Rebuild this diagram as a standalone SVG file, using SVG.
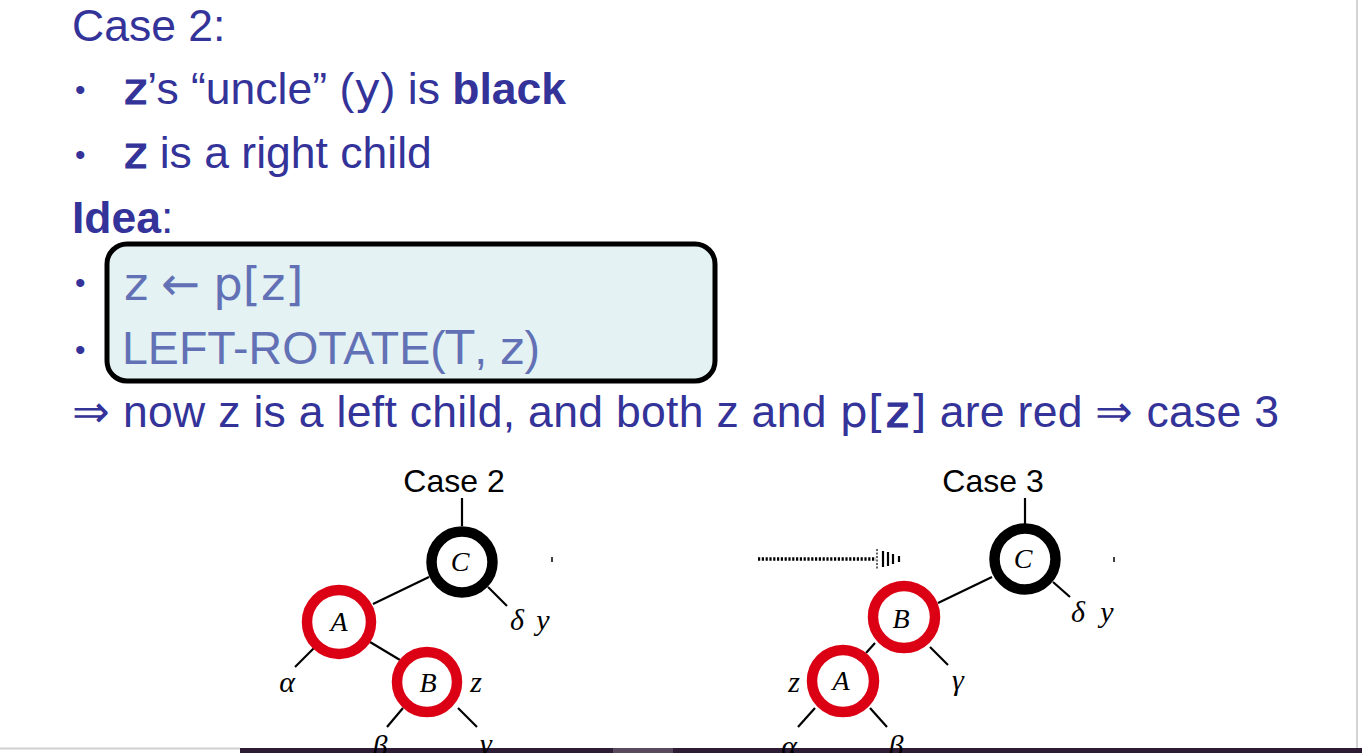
<svg xmlns="http://www.w3.org/2000/svg" width="1362" height="753" viewBox="0 0 1362 753">
<style>
.t{font-family:"Liberation Sans",Arial,sans-serif;font-size:44.5px;fill:#333399}
.m{font-family:"DejaVu Sans","Liberation Sans",sans-serif}
.mb{font-family:"DejaVu Sans","Liberation Sans",sans-serif;stroke:#333399;stroke-width:1.2}
.bx{font-family:"Liberation Sans",Arial,sans-serif;font-size:46.5px;fill:#6271b5}
.bul{font-family:"Liberation Sans",Arial,sans-serif;font-size:30px;fill:#333399}
.lab{font-family:"Liberation Sans",Arial,sans-serif;font-size:32px;fill:#000}
.it{font-family:"Liberation Serif","Times New Roman",serif;font-style:italic;font-size:30px;fill:#000}
.nd{font-family:"Liberation Serif","Times New Roman",serif;font-style:italic;font-size:28px;fill:#000}
.red{fill:#fff;stroke:#dc0014;stroke-width:10.5}
.blk{fill:#fff;stroke:#000;stroke-width:10.5}
.e{stroke:#000;stroke-width:2.2;fill:none}
</style>
<rect x="0" y="0" width="1362" height="753" fill="#fff"/>
<line x1="1357" y1="0" x2="1357" y2="748" stroke="#d4d4d4" stroke-width="2"/>
<line x1="0" y1="748.5" x2="240" y2="748.5" stroke="#cfcfcf" stroke-width="2"/>
<rect x="240" y="748" width="1122" height="5" fill="#2e1b34"/>
<rect x="613" y="748" width="60" height="5" fill="#5a4a5e"/>

<g id="text">
<text class="t" x="72" y="41">Case 2:</text>
<text class="bul" x="75" y="100">•</text>
<text class="t" x="124" y="104"><tspan class="mb">z</tspan>’s “uncle” (<tspan class="m">y</tspan>) is <tspan font-weight="bold">black</tspan></text>
<text class="bul" x="75" y="165">•</text>
<text class="t" x="124" y="168"><tspan class="mb">z</tspan> is a right child</text>
<text class="t" x="72" y="233"><tspan font-weight="bold">Idea</tspan>:</text>
</g>

<g id="box">
<rect x="107" y="244" width="608" height="137" rx="20" ry="20" fill="#e4f2f3" stroke="#000" stroke-width="5"/>
<text class="bul" x="75" y="293">•</text>
<text class="bx" x="124" y="300" font-size="45"><tspan class="m">z</tspan> <tspan class="m">←</tspan> <tspan class="m">p[z]</tspan></text>
<text class="bul" x="75" y="360">•</text>
<text class="bx" x="122" y="364">LEFT-ROTATE(<tspan class="m">T</tspan>, <tspan class="m">z</tspan>)</text>
</g>

<g id="conclusion">
<text class="t" x="72" y="427" font-size="45" textLength="1207" lengthAdjust="spacing">⇒ now z is a left child, and both z and <tspan class="m">p[</tspan><tspan class="mb">z</tspan><tspan class="m">]</tspan> are red ⇒ case 3</text>
</g>

<g id="connectors">
<line class="e" x1="462" y1="498" x2="462" y2="526"/>
<line class="e" x1="429" y1="577" x2="373" y2="604"/>
<line class="e" x1="488" y1="587" x2="507" y2="606"/>
<line class="e" x1="314" y1="648" x2="295" y2="667"/>
<line class="e" x1="370" y1="642" x2="400" y2="660"/>
<line class="e" x1="403" y1="708" x2="387" y2="727"/>
<line class="e" x1="458" y1="708" x2="477" y2="727"/>
<line class="e" x1="1025" y1="498" x2="1025" y2="524"/>
<line class="e" x1="992" y1="577" x2="938" y2="603"/>
<line class="e" x1="1053" y1="582" x2="1070" y2="597"/>
<line class="e" x1="875" y1="643" x2="866" y2="653"/>
<line class="e" x1="930" y1="647" x2="948" y2="665"/>
<line class="e" x1="815" y1="708" x2="798" y2="727"/>
<line class="e" x1="870" y1="708" x2="887" y2="727"/>
<line x1="552" y1="557" x2="552" y2="562" stroke="#000" stroke-width="1.5"/>
<line x1="1114" y1="557" x2="1114" y2="562" stroke="#000" stroke-width="1.5"/>
<g id="dotted-arrow" stroke="#000">
<line x1="758" y1="559" x2="876" y2="559" stroke-width="3.5" stroke-dasharray="2.2,1.6"/>
<line x1="877" y1="549" x2="877" y2="569" stroke-width="1.2" stroke-dasharray="2,1.5"/>
<line x1="883" y1="551" x2="883" y2="567" stroke-width="2.2"/>
<line x1="888" y1="552" x2="888" y2="566" stroke-width="2.2"/>
<line x1="893" y1="554" x2="893" y2="564" stroke-width="2.2"/>
<line x1="899" y1="556" x2="899" y2="562" stroke-width="2.2"/>
</g>
</g>

<g id="case2-label"><text class="lab" x="454" y="492" text-anchor="middle">Case 2</text></g>
<g id="case2-C"><circle class="blk" cx="462" cy="562" r="30.5"/><text class="nd" x="460" y="571" text-anchor="middle">C</text></g>
<g id="case2-A"><circle class="red" cx="339" cy="622" r="32"/><text class="nd" x="339" y="631" text-anchor="middle">A</text></g>
<g id="case2-B"><circle class="red" cx="427" cy="682" r="30"/><text class="nd" x="428" y="692" text-anchor="middle">B</text></g>
<g id="case2-leaves">
<text class="it" x="517" y="630" text-anchor="middle">δ</text>
<text class="it" x="543" y="630" text-anchor="middle">y</text>
<text class="it" x="287" y="692" text-anchor="middle">α</text>
<text class="it" x="476" y="692" text-anchor="middle">z</text>
<text class="it" x="380" y="756" text-anchor="middle">β</text>
<text class="it" x="486" y="754" text-anchor="middle">γ</text>
</g>

<g id="case3-label"><text class="lab" x="993" y="492" text-anchor="middle">Case 3</text></g>
<g id="case3-C"><circle class="blk" cx="1025" cy="559" r="30.5"/><text class="nd" x="1023" y="568" text-anchor="middle">C</text></g>
<g id="case3-B"><circle class="red" cx="904" cy="617" r="31"/><text class="nd" x="901" y="628" text-anchor="middle">B</text></g>
<g id="case3-A"><circle class="red" cx="843" cy="681" r="31"/><text class="nd" x="841" y="690" text-anchor="middle">A</text></g>
<g id="case3-leaves">
<text class="it" x="1078" y="622" text-anchor="middle">δ</text>
<text class="it" x="1107" y="622" text-anchor="middle">y</text>
<text class="it" x="958" y="690" text-anchor="middle">γ</text>
<text class="it" x="794" y="692" text-anchor="middle">z</text>
<text class="it" x="789" y="756" text-anchor="middle">α</text>
<text class="it" x="896" y="756" text-anchor="middle">β</text>
</g>
</svg>
